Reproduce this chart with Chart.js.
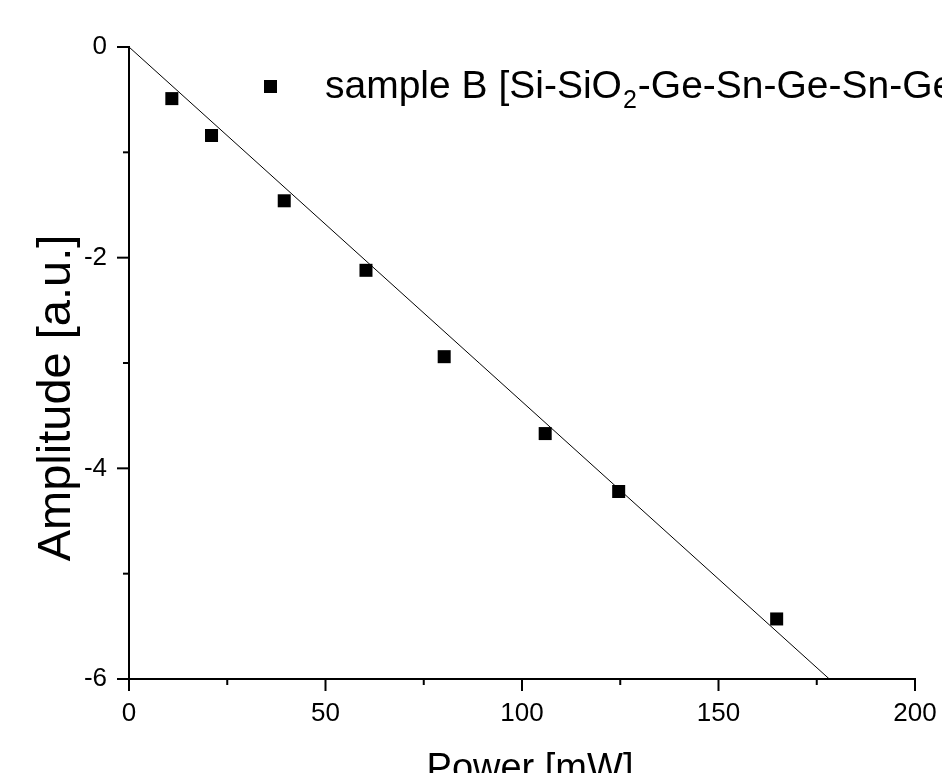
<!DOCTYPE html>
<html>
<head>
<meta charset="utf-8">
<script src="https://cdn.jsdelivr.net/npm/chart.js@4/dist/chart.umd.min.js"></script>
<style>
  html, body { margin: 0; padding: 0; background: #fff; }
  #wrap { width: 942px; height: 773px; position: relative; overflow: hidden; }
</style>
</head>
<body>
<div id="wrap"><canvas id="chart" width="942" height="773"></canvas></div>
<script>
// valores
const powerMW = [10.9, 21.0, 39.5, 60.3, 80.2, 105.9, 124.6, 164.8];
const amplitude = [-0.49, -0.84, -1.46, -2.12, -2.94, -3.67, -4.22, -5.43];
// recta de ajuste (extremos)
const fitX = [0, 178.2];
const fitY = [0, -6];
const xTicks = [0, 50, 100, 150, 200];
const yTicks = [0, -2, -4, -6];
const legendLabel = ['sample B [Si-SiO', '2', '-Ge-Sn-Ge-Sn-Ge]'];

const FONT = '"Liberation Sans", Arial, sans-serif';

// marcas de los ejes (mayores y menores) y textos
const axesPlugin = {
	id: 'axesExtras',
	afterDraw(chart) {
		const ctx = chart.ctx;
		const xs = chart.scales.x, ys = chart.scales.y;
		const area = chart.chartArea;
		ctx.save();
		ctx.strokeStyle = '#000';
		ctx.lineWidth = 2;
		xs.ticks.forEach(t => {
			const px = xs.getPixelForValue(t.value);
			const len = xTicks.includes(t.value) ? 12 : 6;
			ctx.beginPath();
			ctx.moveTo(px, area.bottom);
			ctx.lineTo(px, area.bottom + len);
			ctx.stroke();
		});
		ys.ticks.forEach(t => {
			const py = ys.getPixelForValue(t.value);
			const len = yTicks.includes(t.value) ? 12 : 6;
			ctx.beginPath();
			ctx.moveTo(area.left, py);
			ctx.lineTo(area.left - len, py);
			ctx.stroke();
		});

		// títulos de los ejes
		ctx.fillStyle = '#000';
		ctx.textAlign = 'center';
		ctx.textBaseline = 'alphabetic';
		ctx.font = '38px ' + FONT;
		ctx.fillText('Power [mW]', 530, 780);
		ctx.save();
		ctx.translate(70, 398);
		ctx.rotate(-Math.PI / 2);
		ctx.font = '47px ' + FONT;
		ctx.fillText('Amplitude [a.u.]', 0, 0);
		ctx.restore();

		// leyenda
		ctx.fillRect(264, 80, 13, 13);
		ctx.textAlign = 'left';
		ctx.font = '39px ' + FONT;
		let x = 325;
		const base = 98;
		ctx.fillText(legendLabel[0], x, base);
		x += ctx.measureText(legendLabel[0]).width;
		ctx.font = '25px ' + FONT;
		ctx.fillText(legendLabel[1], x + 1, base + 10);
		x += ctx.measureText(legendLabel[1]).width + 2;
		ctx.font = '39px ' + FONT;
		ctx.fillText(legendLabel[2], x, base);
		ctx.restore();
	}
};

const ctx = document.getElementById('chart').getContext('2d');
new Chart(ctx, {
	type: 'scatter',
	data: {
		datasets: [
			{
				label: 'fit',
				type: 'line',
				data: fitX.map((x, i) => ({ x: x, y: fitY[i] })),
				borderColor: '#000',
				borderWidth: 1,
				pointRadius: 0,
				fill: false
			},
			{
				label: 'sample B',
				data: powerMW.map((x, i) => ({ x: x, y: amplitude[i] })),
				pointStyle: 'rect',
				pointRadius: 9.2,
				backgroundColor: '#000',
				borderColor: '#000',
				borderWidth: 0
			}
		]
	},
	options: {
		responsive: false,
		animation: false,
		layout: { padding: { top: 47, right: 27, left: 0, bottom: 0 } },
		plugins: {
			legend: { display: false },
			tooltip: { enabled: false }
		},
		scales: {
			x: {
				type: 'linear',
				min: 0,
				max: 200,
				afterFit: s => { s.height = 94; s.paddingLeft = 0; s.paddingRight = 0; },
				grid: { display: true, drawOnChartArea: false, drawTicks: false },
				border: { display: true, color: '#000', width: 2 },
				ticks: {
					stepSize: 25,
					padding: 19,
					color: '#000',
					font: { family: FONT, size: 26 },
					maxRotation: 0,
					autoSkip: false,
					callback: v => xTicks.includes(v) ? String(v) : ''
				}
			},
			y: {
				type: 'linear',
				min: -6,
				max: 0,
				afterFit: s => { s.width = 129; s.paddingTop = 0; s.paddingBottom = 0; },
				grid: { display: true, drawOnChartArea: false, drawTicks: false },
				border: { display: true, color: '#000', width: 2 },
				ticks: {
					stepSize: 1,
					padding: 22,
					color: '#000',
					font: { family: FONT, size: 26 },
					autoSkip: false,
					callback: v => yTicks.includes(v) ? String(v) : ''
				}
			}
		}
	},
	plugins: [axesPlugin]
});
</script>
</body>
</html>
